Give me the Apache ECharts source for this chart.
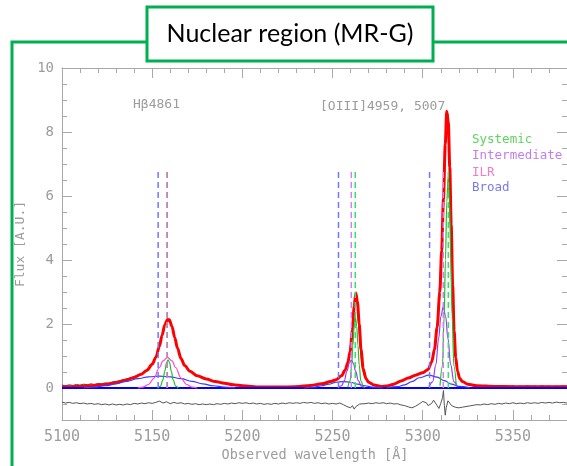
<!DOCTYPE html>
<html>
<head>
<meta charset="utf-8">
<script src="https://cdn.jsdelivr.net/npm/echarts@6/dist/echarts.min.js"></script>
<style>
html,body{margin:0;padding:0;background:#fff;}
#chart{width:567px;height:466px;}
</style>
</head>
<body>
<div id="chart"></div>
<script>
// ---------- tick values ----------
const xMajorTicks = [5100, 5150, 5200, 5250, 5300, 5350];
const xMinorTicks = [5110, 5120, 5130, 5140, 5160, 5170, 5180, 5190, 5210, 5220, 5230, 5240, 5260, 5270, 5280, 5290, 5310, 5320, 5330, 5340, 5360, 5370];
const yMajorTicks = [0, 2, 4, 6, 8, 10];
const yMinorTicks = [-0.5, 0.5, 1, 1.5, 2.5, 3, 3.5, 4.5, 5, 5.5, 6.5, 7, 7.5, 8.5, 9, 9.5];

// ---------- observed spectrum [wavelength, flux] ----------
const observed = [[5100,0.09],[5102,0.07],[5104,0.10],[5106,0.08],[5108,0.11],[5110,0.09],[5112,0.12],[5114,0.10],[5116,0.13],[5118,0.11],[5120,0.14],[5122,0.13],[5124,0.16],[5126,0.15],[5128,0.19],[5130,0.20],[5132,0.23],[5134,0.25],[5136,0.29],[5138,0.31],[5140,0.36],[5142,0.40],[5144,0.45],[5146,0.52],[5148,0.62],[5150,0.76],[5152,0.97],[5154,1.32],[5156,1.78],[5157,1.99],[5158,2.12],[5159,2.16],[5160,2.05],[5161,1.90],[5162,1.70],[5164,1.25],[5166,0.93],[5168,0.72],[5170,0.58],[5172,0.47],[5174,0.41],[5176,0.35],[5178,0.31],[5180,0.28],[5182,0.24],[5184,0.22],[5186,0.18],[5188,0.17],[5190,0.14],[5192,0.13],[5194,0.10],[5196,0.09],[5198,0.08],[5200,0.06],[5202,0.05],[5204,0.03],[5206,0.04],[5208,0.02],[5210,0.03],[5212,0.02],[5214,0.04],[5216,0.03],[5218,0.05],[5220,0.03],[5222,0.04],[5224,0.02],[5226,0.05],[5228,0.04],[5230,0.06],[5232,0.05],[5234,0.07],[5236,0.08],[5238,0.09],[5240,0.11],[5242,0.12],[5244,0.14],[5246,0.16],[5248,0.19],[5250,0.22],[5252,0.26],[5254,0.33],[5256,0.45],[5258,0.70],[5259,0.98],[5260,1.35],[5261,1.85],[5262,2.55],[5263,2.95],[5264,2.45],[5265,1.55],[5266,0.85],[5267,0.50],[5268,0.32],[5270,0.17],[5272,0.10],[5274,0.07],[5276,0.05],[5278,0.06],[5280,0.08],[5282,0.10],[5284,0.14],[5286,0.17],[5288,0.24],[5290,0.27],[5292,0.33],[5294,0.35],[5296,0.42],[5298,0.44],[5300,0.50],[5302,0.55],[5304,0.66],[5306,1.05],[5308,1.95],[5309,2.95],[5310,3.85],[5311,5.05],[5312,6.75],[5313,8.35],[5314,8.55],[5315,6.95],[5316,4.05],[5317,2.25],[5318,1.20],[5319,0.62],[5320,0.36],[5322,0.19],[5324,0.13],[5326,0.09],[5328,0.07],[5330,0.06],[5332,0.05],[5334,0.07],[5336,0.04],[5338,0.06],[5340,0.05],[5342,0.07],[5344,0.04],[5346,0.06],[5348,0.05],[5350,0.07],[5352,0.04],[5354,0.06],[5356,0.05],[5358,0.07],[5360,0.05],[5362,0.06],[5364,0.04],[5366,0.07],[5368,0.05],[5370,0.06],[5372,0.04],[5374,0.06],[5376,0.05],[5378,0.07],[5380,0.05]];

// ---------- residual (offset) ----------
const residual = [[5100,-0.44],[5102,-0.47],[5104,-0.45],[5106,-0.48],[5108,-0.46],[5110,-0.49],[5112,-0.47],[5114,-0.50],[5116,-0.48],[5118,-0.51],[5120,-0.49],[5122,-0.52],[5124,-0.50],[5126,-0.53],[5128,-0.50],[5130,-0.53],[5132,-0.51],[5134,-0.53],[5136,-0.50],[5138,-0.52],[5140,-0.48],[5142,-0.50],[5144,-0.47],[5146,-0.49],[5148,-0.46],[5150,-0.48],[5152,-0.45],[5154,-0.41],[5156,-0.47],[5158,-0.43],[5160,-0.49],[5162,-0.45],[5164,-0.48],[5166,-0.46],[5168,-0.50],[5170,-0.48],[5172,-0.51],[5174,-0.49],[5176,-0.52],[5178,-0.50],[5180,-0.52],[5182,-0.50],[5184,-0.52],[5186,-0.49],[5188,-0.51],[5190,-0.48],[5192,-0.50],[5194,-0.47],[5196,-0.49],[5198,-0.46],[5200,-0.48],[5202,-0.46],[5204,-0.49],[5206,-0.47],[5208,-0.50],[5210,-0.48],[5212,-0.51],[5214,-0.49],[5216,-0.51],[5218,-0.48],[5220,-0.50],[5222,-0.47],[5224,-0.49],[5226,-0.46],[5228,-0.48],[5230,-0.46],[5232,-0.48],[5234,-0.45],[5236,-0.47],[5238,-0.45],[5240,-0.48],[5242,-0.46],[5244,-0.49],[5246,-0.47],[5248,-0.50],[5250,-0.48],[5252,-0.50],[5254,-0.47],[5256,-0.52],[5258,-0.58],[5259,-0.52],[5260,-0.62],[5261,-0.55],[5262,-0.66],[5263,-0.58],[5264,-0.60],[5265,-0.50],[5266,-0.46],[5268,-0.49],[5270,-0.47],[5272,-0.49],[5274,-0.46],[5276,-0.48],[5278,-0.46],[5280,-0.49],[5282,-0.47],[5284,-0.50],[5286,-0.49],[5288,-0.53],[5290,-0.55],[5292,-0.59],[5294,-0.62],[5296,-0.57],[5298,-0.50],[5300,-0.42],[5301,-0.38],[5302,-0.46],[5303,-0.55],[5304,-0.60],[5305,-0.48],[5306,-0.38],[5307,-0.42],[5308,-0.55],[5309,-0.64],[5310,-0.48],[5311,-0.30],[5311.5,-0.08],[5312,-0.55],[5312.5,-0.85],[5313,-0.62],[5314,-0.40],[5315,-0.47],[5316,-0.55],[5318,-0.60],[5320,-0.62],[5322,-0.60],[5324,-0.58],[5326,-0.56],[5328,-0.54],[5330,-0.52],[5332,-0.53],[5334,-0.50],[5336,-0.52],[5338,-0.49],[5340,-0.51],[5342,-0.48],[5344,-0.50],[5346,-0.47],[5348,-0.49],[5350,-0.46],[5352,-0.49],[5354,-0.47],[5356,-0.49],[5358,-0.46],[5360,-0.48],[5362,-0.46],[5364,-0.48],[5366,-0.45],[5368,-0.47],[5370,-0.45],[5372,-0.47],[5374,-0.44],[5376,-0.46],[5378,-0.45],[5380,-0.47]];

// ---------- total fit ----------
const fitTotal = [[5100,0.03],[5105,0.04],[5110,0.05],[5115,0.07],[5120,0.09],[5125,0.12],[5130,0.17],[5135,0.24],[5140,0.33],[5144,0.43],[5147,0.55],[5150,0.74],[5152,0.95],[5154,1.30],[5155.5,1.65],[5157,1.98],[5158.5,2.14],[5159.5,2.13],[5161,1.92],[5162.5,1.58],[5164,1.25],[5166,0.92],[5168,0.70],[5171,0.52],[5175,0.38],[5180,0.28],[5185,0.20],[5190,0.15],[5195,0.10],[5200,0.07],[5210,0.03],[5220,0.03],[5230,0.04],[5238,0.08],[5244,0.13],[5249,0.20],[5252,0.26],[5255,0.38],[5257,0.56],[5258.5,0.80],[5259.8,1.15],[5261,1.80],[5262,2.55],[5262.9,2.97],[5263.8,2.70],[5264.8,2.00],[5265.8,1.20],[5267,0.60],[5268.5,0.30],[5270,0.18],[5273,0.09],[5277,0.05],[5280,0.06],[5284,0.12],[5288,0.22],[5292,0.31],[5296,0.40],[5300,0.48],[5303,0.58],[5305,0.82],[5306.5,1.20],[5308,1.90],[5309.5,3.00],[5310.5,4.30],[5311.5,5.90],[5312.5,7.60],[5313.3,8.65],[5314.2,8.30],[5315,6.90],[5315.8,5.10],[5316.6,3.20],[5317.4,1.80],[5318.3,0.95],[5319.3,0.52],[5320.5,0.30],[5322,0.20],[5325,0.12],[5330,0.07],[5340,0.05],[5350,0.04],[5360,0.04],[5370,0.04],[5380,0.04]];

// ---------- continuum ----------
const continuum = [[5100,0],[5380,0]];

// ---------- components ----------
const hbBroad = [[5112,0.01],[5118,0.03],[5124,0.07],[5130,0.13],[5136,0.21],[5142,0.29],[5148,0.35],[5154,0.37],[5160,0.35],[5166,0.29],[5172,0.21],[5178,0.13],[5184,0.07],[5190,0.03],[5196,0.01]];
const hbILR = [[5142,0.0],[5145,0.03],[5148,0.11],[5151,0.31],[5154,0.64],[5156,0.85],[5158.5,0.96],[5161,0.85],[5163,0.64],[5166,0.31],[5169,0.11],[5172,0.03],[5175,0.0]];
const hbSys = [[5153,0.0],[5154.5,0.05],[5156,0.26],[5157,0.53],[5158,0.80],[5158.8,0.88],[5159.6,0.80],[5160.6,0.53],[5161.6,0.26],[5163,0.06],[5164.5,0.0]];

const o4959Broad = [[5234,0.0],[5240,0.03],[5244,0.07],[5248,0.12],[5252,0.18],[5256,0.20],[5260,0.18],[5264,0.12],[5268,0.07],[5272,0.03],[5278,0.0]];
const o4959Inter = [[5253,0.01],[5255,0.07],[5256.5,0.23],[5258,0.53],[5259.3,0.78],[5260.4,0.87],[5261.5,0.78],[5262.8,0.53],[5264.3,0.23],[5266,0.06],[5268,0.01]];
const o4959Sys = [[5258.5,0.02],[5259.7,0.22],[5260.6,0.71],[5261.3,1.34],[5262,1.94],[5262.7,2.2],[5263.4,1.94],[5264.1,1.34],[5264.8,0.71],[5265.7,0.22],[5266.9,0.02]];

const o5007Broad = [[5280,0.01],[5286,0.04],[5290,0.10],[5294,0.20],[5298,0.32],[5303.5,0.40],[5308,0.34],[5312,0.23],[5316,0.12],[5320,0.05],[5326,0.01]];
const o5007Inter = [[5303.5,0.03],[5305.5,0.19],[5307.3,0.73],[5308.8,1.54],[5310.1,2.24],[5311.4,2.54],[5312.7,2.24],[5314,1.54],[5315.5,0.73],[5317.3,0.19],[5319.3,0.03]];
const o5007Sys = [[5309.6,0.07],[5310.9,0.68],[5311.9,2.25],[5312.6,4.0],[5313.35,5.82],[5314.1,6.6],[5314.85,5.82],[5315.6,4.0],[5316.3,2.25],[5317.3,0.68],[5318.6,0.07]];

// ---------- line-centre markers (wavelengths) ----------
const broadCentres = [5153.3, 5253.3, 5303.8];
const interCentres = [5260.4, 5311.4];
const ilrCentres = [5158.3];
const sysCentres = [5158.3, 5262.6, 5314.2];
const markerTop = 6.85;

// ---------- texts ----------
const lineLabels = ['H\u03b24861', '[OIII]4959, 5007'];
const legendNames = ['Systemic', 'Intermediate', 'ILR', 'Broad'];
const titleText = 'Nuclear region (MR-G)';
const xTitle = 'Observed wavelength [\u00c5]';
const yTitle = 'Flux [A.U.]';

const C = {
  sys: '#1fbf2a', sysDash: '#33e070', sysText: '#5fd35f',
  inter: '#9a3cf0', interDash: '#d27ef5', interText: '#c47ee8',
  ilr: '#ff45d8', ilrDash: '#e070c8', ilrText: '#f07cc4',
  broad: '#3a3aff', broadDash: '#7575ff', broadText: '#7a7af0',
  axis: '#a8a8a8', text: '#9c9c9c', green: '#00b050'
};

const chart = echarts.init(document.getElementById('chart'), null, {renderer: 'canvas'});

function xAx(pos, ticks, len, label, line) {
  return {
    type: 'value', min: 5100, max: 5380, position: pos, gridIndex: 0,
    axisLine: {show: line, onZero: false, lineStyle: {color: C.axis, width: 1}},
    axisTick: {show: true, inside: true, length: len, customValues: ticks, lineStyle: {color: C.axis, width: 1}},
    axisLabel: {show: label, customValues: ticks, margin: 10, color: C.text, fontFamily: 'DejaVu Sans Mono', fontSize: 15,
      formatter: v => String(v)},
    splitLine: {show: false}
  };
}
function yAx(pos, ticks, len, label, line) {
  return {
    type: 'value', min: -1, max: 10, position: pos, gridIndex: 0,
    axisLine: {show: line, onZero: false, lineStyle: {color: C.axis, width: 1}},
    axisTick: {show: true, inside: true, length: len, customValues: ticks, lineStyle: {color: C.axis, width: 1}},
    axisLabel: {show: label, customValues: ticks, margin: 8, color: C.text, fontFamily: 'DejaVu Sans Mono', fontSize: 14,
      formatter: v => String(v)},
    splitLine: {show: false}
  };
}

function curve(data, color, width, z, smooth) {
  return {type: 'line', data: data, xAxisIndex: 0, yAxisIndex: 0, showSymbol: false, symbol: 'none',
    smooth: smooth, smoothMonotone: 'x', lineStyle: {color: color, width: width}, z: z, silent: true};
}
function markers(centres, color, z) {
  return centres.map(w => ({type: 'line', data: [[w, 0], [w, markerTop]], xAxisIndex: 0, yAxisIndex: 0,
    showSymbol: false, symbol: 'none', lineStyle: {color: color, width: 1.5, type: [6, 4]}, z: z, silent: true}));
}

const series = [
  curve(residual, '#555555', 1, 2, false),
  curve(observed, '#444444', 1, 2, false),
  curve(fitTotal, '#ff0000', 3, 3, 0.3),
  curve(continuum, '#0000ff', 2, 4, false),
  curve(hbBroad, C.broad, 1.2, 5, 0.4),
  curve(o4959Broad, C.broad, 1.2, 5, 0.4),
  curve(o5007Broad, C.broad, 1.2, 5, 0.4),
  curve(hbILR, C.ilr, 1.2, 5, 0.4),
  curve(o4959Inter, C.inter, 1.2, 5, 0.4),
  curve(o5007Inter, C.inter, 1.2, 5, 0.4),
  curve(hbSys, C.sys, 1.2, 6, 0.4),
  curve(o4959Sys, C.sys, 1.2, 6, 0.4),
  curve(o5007Sys, C.sys, 1.2, 6, 0.4)
].concat(markers(broadCentres, C.broadDash, 7))
 .concat(markers(sysCentres, C.sysDash, 7))
 .concat(markers(interCentres, C.interDash, 8))
 .concat(markers(ilrCentres, C.ilrDash, 8));

const smallFont = 'DejaVu Sans Mono';
const graphic = [
  {type: 'polyline', z: 100, shape: {points: [[12, 470], [12, 42], [150, 42]]}, style: {stroke: C.green, lineWidth: 3, fill: null}},
  {type: 'line', z: 100, shape: {x1: 430, y1: 42, x2: 570, y2: 42}, style: {stroke: C.green, lineWidth: 3}},
  {type: 'rect', z: 101, shape: {x: 147, y: 7, width: 286, height: 54}, style: {fill: '#ffffff', stroke: C.green, lineWidth: 3}},
  {type: 'text', z: 102, x: 290, y: 34, style: {text: titleText, fill: '#000', fontFamily: 'Lato', fontSize: 25, align: 'center', verticalAlign: 'middle'}},
  {type: 'text', z: 102, x: 133, y: 105, style: {text: lineLabels[0], fill: C.text, fontFamily: smallFont, fontSize: 13, align: 'left', verticalAlign: 'middle'}},
  {type: 'text', z: 102, x: 320, y: 107, style: {text: lineLabels[1], fill: C.text, fontFamily: smallFont, fontSize: 13, align: 'left', verticalAlign: 'middle'}},
  {type: 'text', z: 102, x: 472, y: 140, style: {text: legendNames[0], fill: C.sysText, fontFamily: smallFont, fontSize: 12.5, align: 'left', verticalAlign: 'middle'}},
  {type: 'text', z: 102, x: 472, y: 156, style: {text: legendNames[1], fill: C.interText, fontFamily: smallFont, fontSize: 12.5, align: 'left', verticalAlign: 'middle'}},
  {type: 'text', z: 102, x: 472, y: 173, style: {text: legendNames[2], fill: C.ilrText, fontFamily: smallFont, fontSize: 12.5, align: 'left', verticalAlign: 'middle'}},
  {type: 'text', z: 102, x: 472, y: 188, style: {text: legendNames[3], fill: C.broadText, fontFamily: smallFont, fontSize: 12.5, align: 'left', verticalAlign: 'middle'}},
  {type: 'text', z: 102, x: 315, y: 455, style: {text: xTitle, fill: C.text, fontFamily: smallFont, fontSize: 13.5, align: 'center', verticalAlign: 'middle'}},
  {type: 'text', z: 102, x: 21, y: 244, rotation: Math.PI / 2, style: {text: yTitle, fill: C.text, fontFamily: smallFont, fontSize: 13, align: 'center', verticalAlign: 'middle'}}
];

chart.setOption({
  animation: false,
  backgroundColor: '#ffffff',
  grid: {left: 62, top: 68, width: 510, height: 352, containLabel: false},
  xAxis: [
    xAx('bottom', xMajorTicks, 10, true, true),
    xAx('bottom', xMinorTicks, 5, false, false),
    xAx('top', xMajorTicks, 10, false, true),
    xAx('top', xMinorTicks, 5, false, false)
  ],
  yAxis: [
    yAx('left', yMajorTicks, 10, true, true),
    yAx('left', yMinorTicks, 5, false, false),
    yAx('right', yMajorTicks, 10, false, true),
    yAx('right', yMinorTicks, 5, false, false)
  ],
  series: series,
  graphic: graphic
});
</script>
</body>
</html>
